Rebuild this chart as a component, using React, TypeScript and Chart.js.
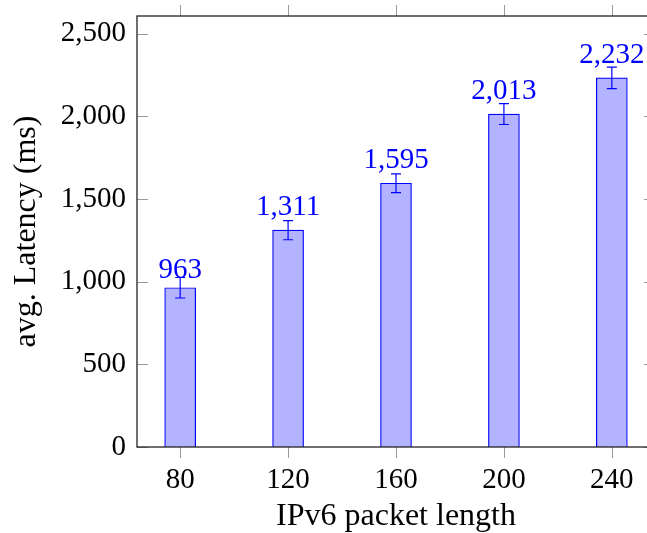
import React, { useEffect, useRef } from "react";
import { Chart, registerables } from "chart.js";

Chart.register(...registerables);

const packetLengths = [80, 120, 160, 200, 240];
const latencies = [963, 1311, 1595, 2013, 2232];
const latencyErrors = [62, 58, 57, 63, 65];
const yTickValues = [0, 500, 1000, 1500, 2000, 2500];
const xTitle = "IPv6 packet length";
const yTitle = "avg. Latency (ms)";

const FONT = "'Liberation Serif', 'DejaVu Serif', serif";
const fmt = (v: number) => Number(v).toLocaleString("en-US");

const decorPlugin = {
  id: "decor",
  afterDatasetsDraw(chart: any) {
    const ctx = chart.ctx;
    const meta = chart.getDatasetMeta(0);
    const ys = chart.scales.y;
    ctx.save();
    // error bars
    ctx.strokeStyle = "#0000ff";
    ctx.lineWidth = 1.2;
    meta.data.forEach((bar: any, i: number) => {
      const x = bar.x;
      const top = ys.getPixelForValue(latencies[i] + latencyErrors[i]);
      const bot = ys.getPixelForValue(latencies[i] - latencyErrors[i]);
      ctx.beginPath();
      ctx.moveTo(x, top);
      ctx.lineTo(x, bot);
      ctx.moveTo(x - 5, top);
      ctx.lineTo(x + 5, top);
      ctx.moveTo(x - 5, bot);
      ctx.lineTo(x + 5, bot);
      ctx.stroke();
    });
    // value labels
    ctx.fillStyle = "#0000ff";
    ctx.font = `29px ${FONT}`;
    ctx.textAlign = "center";
    ctx.textBaseline = "alphabetic";
    meta.data.forEach((bar: any, i: number) => {
      const t = fmt(latencies[i]);
      const m = ctx.measureText(t);
      const desc = Math.max(0, m.actualBoundingBoxDescent || 0);
      ctx.fillText(t, bar.x, bar.y - 10 - desc);
    });
    ctx.restore();
  },
  afterDraw(chart: any) {
    const ctx = chart.ctx;
    const a = chart.chartArea;
    const xs = chart.scales.x;
    const ys = chart.scales.y;
    ctx.save();
    // ticks
    ctx.strokeStyle = "#9a9a9a";
    ctx.lineWidth = 1;
    ctx.beginPath();
    xs.ticks.forEach((t: any) => {
      const px = Math.round(xs.getPixelForValue(t.value)) + 0.5;
      ctx.moveTo(px, a.bottom);
      ctx.lineTo(px, a.bottom + 11);
      ctx.moveTo(px, a.top);
      ctx.lineTo(px, a.top - 11);
    });
    ys.ticks.forEach((t: any) => {
      const py = Math.round(ys.getPixelForValue(t.value)) + 0.5;
      ctx.moveTo(a.left, py);
      ctx.lineTo(a.left + 11, py);
      ctx.moveTo(a.right, py);
      ctx.lineTo(a.right - 11, py);
    });
    ctx.stroke();
    // frame
    ctx.strokeStyle = "#222";
    ctx.lineWidth = 1.3;
    ctx.strokeRect(a.left, a.top, a.right - a.left, a.bottom - a.top);
    ctx.restore();
  },
};

export default function App() {
  const ref = useRef<HTMLCanvasElement | null>(null);
  useEffect(() => {
    if (!ref.current) return;
    const chart = new Chart(ref.current, {
      type: "bar",
      data: {
        datasets: [
          {
            data: packetLengths.map((x, i) => ({ x, y: latencies[i] })),
            backgroundColor: "rgb(179,179,255)",
            borderColor: "#0000ff",
            borderWidth: 1.2,
            barThickness: 31,
          },
        ],
      },
      options: {
        responsive: false,
        animation: false,
        devicePixelRatio: 1,
        layout: { padding: { top: 16, right: 25, left: 0, bottom: 0 } },
        plugins: { legend: { display: false }, tooltip: { enabled: false } },
        scales: {
          x: {
            type: "linear",
            min: 64,
            max: 256,
            offset: false,
            grid: { display: false, drawTicks: false },
            border: { display: false },
            afterBuildTicks: (s: any) => {
              s.ticks = packetLengths.map((v) => ({ value: v }));
            },
            afterFit: (s: any) => {
              s.height = 86;
              s.paddingLeft = 0;
              s.paddingRight = 0;
            },
            ticks: {
              padding: 16,
              color: "#000",
              font: { family: FONT, size: 29 },
              callback: (v: any) => String(v),
            },
            title: {
              display: true,
              text: xTitle,
              color: "#000",
              font: { family: FONT, size: 32, lineHeight: 1 },
              padding: { top: 0, bottom: 0 },
            },
          },
          y: {
            type: "linear",
            min: 0,
            max: 2606,
            grid: { display: false, drawTicks: false },
            border: { display: false },
            afterBuildTicks: (s: any) => {
              s.ticks = yTickValues.map((v) => ({ value: v }));
            },
            afterFit: (s: any) => {
              s.width = 137;
              s.paddingTop = 0;
              s.paddingBottom = 0;
            },
            ticks: {
              padding: 11,
              color: "#000",
              font: { family: FONT, size: 29 },
              callback: (v: any) => fmt(v),
            },
            title: {
              display: true,
              text: yTitle,
              color: "#000",
              font: { family: FONT, size: 32, lineHeight: 1 },
              padding: { top: 11, bottom: 0 },
            },
          },
        },
      },
      plugins: [decorPlugin],
    });
    return () => chart.destroy();
  }, []);
  return (
    <div
      style={{
        position: "fixed",
        left: 0,
        top: 0,
        width: 647,
        height: 533,
        overflow: "hidden",
        background: "#fff",
      }}
    >
      <canvas ref={ref} width={680} height={533} style={{ display: "block", width: 680, height: 533 }} />
    </div>
  );
}
